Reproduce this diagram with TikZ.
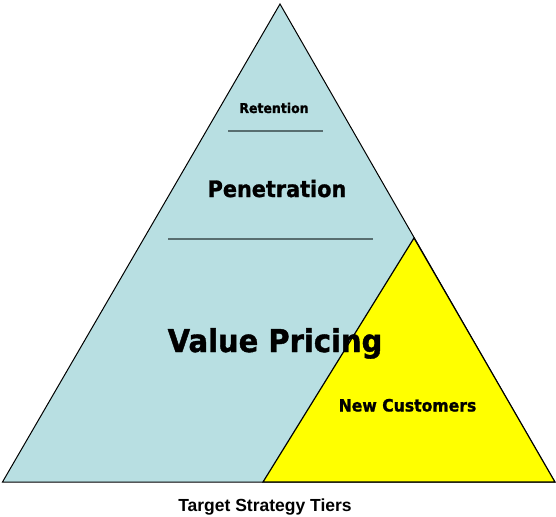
\documentclass[tikz,border=0pt]{standalone}
\usepackage{fontspec}
\setmainfont{Liberation Sans}
\newfontfamily\tierfont[FakeStretch=0.92,FakeBold=1.2]{DejaVu Sans}
\definecolor{tierblue}{RGB}{184,223,226}
\definecolor{tieryellow}{RGB}{255,255,0}
\definecolor{rulegray}{RGB}{88,110,112}
\begin{document}
\begin{tikzpicture}[x=1pt,y=-1pt,
  tier/.style={fill=tierblue,draw=black,line width=1pt,line join=miter},
  newtier/.style={fill=tieryellow,draw=black,line width=1.2pt,line join=miter},
  divider/.style={draw=rulegray,line width=2pt},
  label/.style={inner sep=0pt,anchor=base,font=\tierfont\bfseries}]
  \useasboundingbox (0,0) rectangle (556,516);
  % outer pyramid
  \coordinate (apex) at (280,4);
  \coordinate (bl) at (2.5,482);
  \coordinate (br) at (554.5,482);
  \draw[tier] (apex) -- (bl) -- (br) -- cycle;
  % new-customer wedge
  \coordinate (ya) at (414,238);
  \coordinate (yl) at (263,482);
  \coordinate (yr) at (555,482);
  \draw[newtier] (ya) -- (yl) -- (yr) -- cycle;
  % dividers
  \coordinate (r1) at (228,131);
  \coordinate (r2) at (323,131);
  \coordinate (p1) at (168,239);
  \coordinate (p2) at (373,239);
  \draw[divider] (r1) -- (r2);
  \draw[divider] (p1) -- (p2);
  % labels
  \node[label,font=\tierfont\bfseries\fontsize{13.6}{15}\selectfont] (ret) at (274,113) {Retention};
  \node[label,font=\tierfont\bfseries\fontsize{22.6}{26}\selectfont] (pen) at (277,197) {Penetration};
  \node[label,font=\tierfont\bfseries\fontsize{31.5}{34}\selectfont] (vp) at (275,352) {Value Pricing};
  \node[label,font=\tierfont\bfseries\fontsize{17}{19}\selectfont] (nc) at (407.5,411.5) {New Customers};
  \node[inner sep=0pt,anchor=base,font=\bfseries\fontsize{17.5}{19}\selectfont] (cap) at (265,511.5) {Target Strategy Tiers};
\end{tikzpicture}
\end{document}
